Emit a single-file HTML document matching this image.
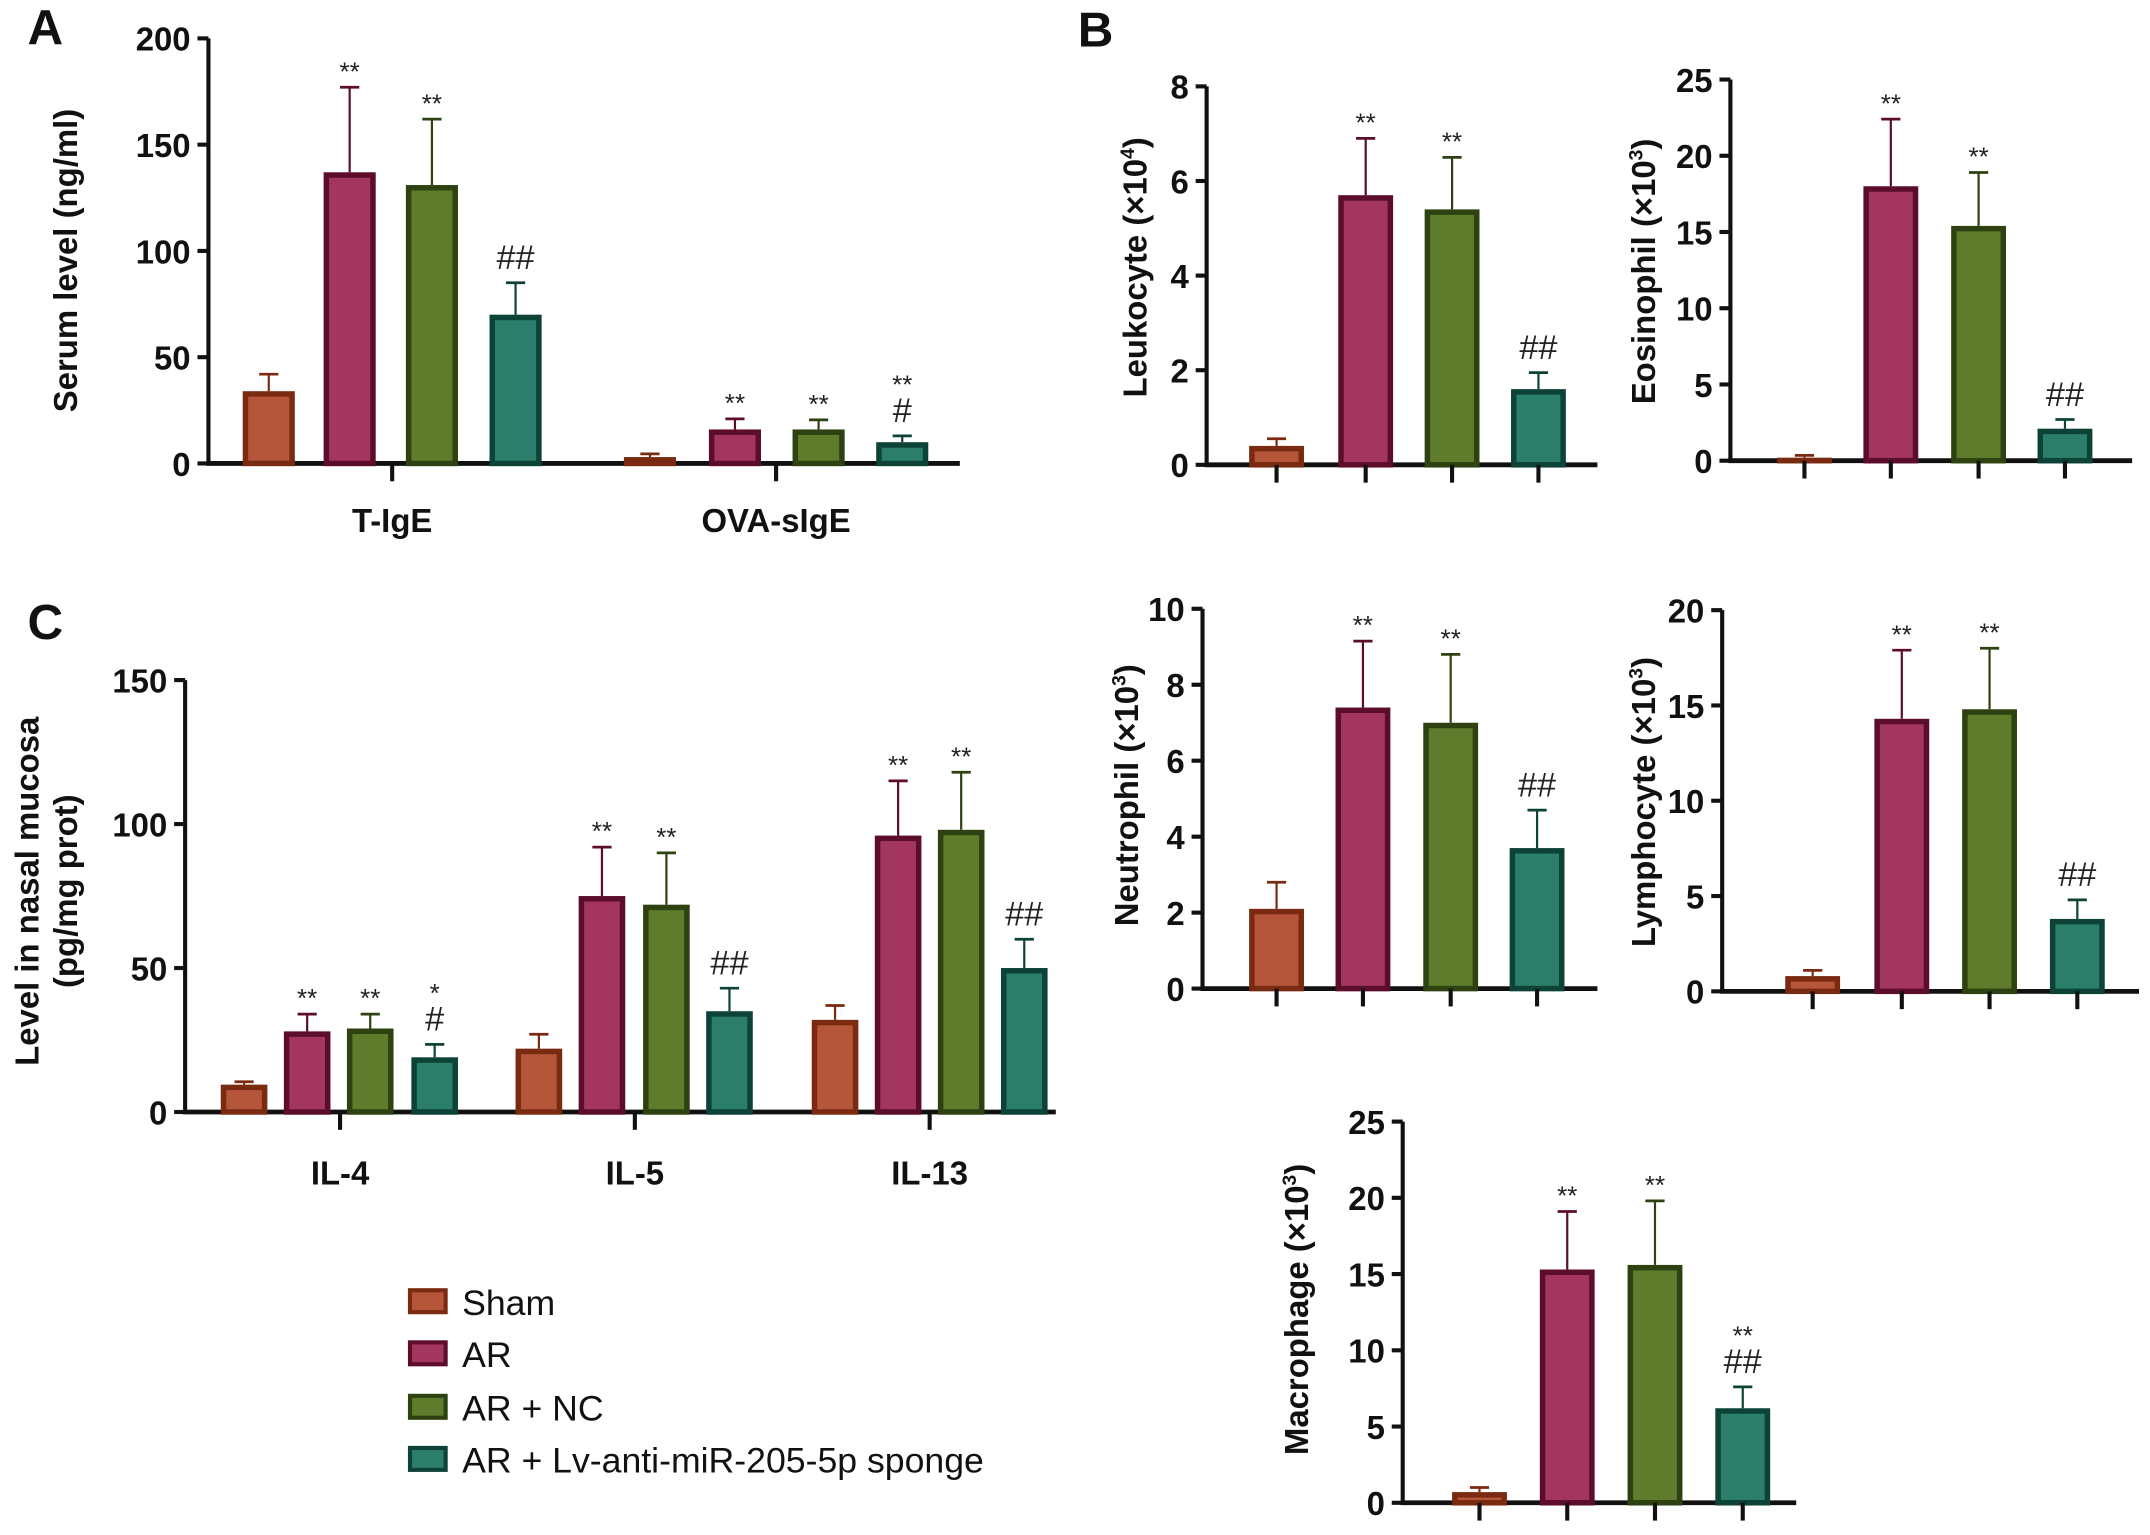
<!DOCTYPE html>
<html><head><meta charset="utf-8">
<style>
html,body{margin:0;padding:0;background:#fff;}
svg{display:block;font-family:"Liberation Sans",Arial,sans-serif;}
.tick{font-weight:bold;font-size:24px;fill:#111;}
.ann{fill:#222;}
.ttl{font-weight:bold;font-size:24px;fill:#111;}
.lbl{font-weight:bold;font-size:36px;fill:#111;}
.leg{font-size:26px;fill:#111;}
</style></head>
<body>
<svg id="fig" width="2150" height="1535" viewBox="0 0 1568 1119.5" xmlns="http://www.w3.org/2000/svg">
<text class="lbl" x="20" y="32">A</text>
<text class="lbl" x="786" y="34">B</text>
<text class="lbl" x="20" y="466">C</text>
<g>
 <rect x="299" y="941" width="26" height="16" fill="#b5553a" stroke="#7a2a10" stroke-width="3"/>
 <text class="leg" x="337" y="959">Sham</text>
 <rect x="299" y="979" width="26" height="16" fill="#a3365e" stroke="#5c0d2b" stroke-width="3"/>
 <text class="leg" x="337" y="997">AR</text>
 <rect x="299" y="1018" width="26" height="16" fill="#5e7c2b" stroke="#2d4210" stroke-width="3"/>
 <text class="leg" x="337" y="1036">AR + NC</text>
 <rect x="299" y="1056" width="26" height="16" fill="#2a7e6a" stroke="#0d4236" stroke-width="3"/>
 <text class="leg" x="337" y="1074">AR + Lv-anti-miR-205-5p sponge</text>
</g>
</svg>
<script>
// ---- data ----
const groups = ['Sham','AR','AR + NC','AR + Lv-anti-miR-205-5p sponge'];
const aCategories = ['T-IgE','OVA-sIgE'];
const aMeans = [[34,137,131,70],[3,16,16,10]];
const aErr = [[8,40,31,15],[1.5,5,4.5,3]];
const aAnn = [[[],['**'],['**'],['##']],[[],['**'],['**'],['**','#']]];
const aTicks = [0,50,100,150,200];

const cCategories = ['IL-4','IL-5','IL-13'];
const cMeans = [[9.5,28,29,19],[22,75,72,35],[32,96,98,50]];
const cErr = [[1,6,5,4.5],[5,17,18,8],[5,19,20,10]];
const cAnn = [[[],['**'],['**'],['*','#']],[[],['**'],['**'],['##']],[[],['**'],['**'],['##']]];
const cTicks = [0,50,100,150];

const leukMeans = [0.4,5.7,5.4,1.6];
const leukErr = [0.15,1.2,1.1,0.35];
const leukTicks = [0,2,4,6,8];
const eosMeans = [0.2,18,15.4,2.1];
const eosErr = [0.15,4.4,3.5,0.6];
const eosTicks = [0,5,10,15,20,25];
const neuMeans = [2.1,7.4,7.0,3.7];
const neuErr = [0.7,1.75,1.8,1.0];
const neuTicks = [0,2,4,6,8,10];
const lymMeans = [0.8,14.3,14.8,3.8];
const lymErr = [0.3,3.6,3.2,1.0];
const lymTicks = [0,5,10,15,20];
const macMeans = [0.7,15.3,15.6,6.2];
const macErr = [0.3,3.8,4.2,1.4];
const macTicks = [0,5,10,15,20,25];
const singleAnn = [[],['**'],['**'],['##']];
const macAnn = [[],['**'],['**'],['**','##']];

const fills = ['#b5553a','#a3365e','#5e7c2b','#2a7e6a'];
const strokes = ['#7a2a10','#5c0d2b','#2d4210','#0d4236'];
const NS='http://www.w3.org/2000/svg';
const svg=document.getElementById('fig');
function mk(tag,attrs,parent){const e=document.createElementNS(NS,tag);for(const k in attrs)e.setAttribute(k,attrs[k]);(parent||svg).appendChild(e);return e;}

function axes(g,x0,y0,yTop,xEnd,ticks,scale){
  const ax=mk('line',{x1:x0,y1:y0+1,x2:x0,y2:yTop,stroke:'#111','stroke-width':3},g);
  
  
  const bx=mk('line',{x1:x0-1.5,y1:y0,x2:xEnd,y2:y0,stroke:'#111','stroke-width':3.5},g);
  
  
  ticks.forEach(t=>{
    const y=scale(t);
    mk('line',{x1:x0-8,y1:y,x2:x0,y2:y,stroke:'#111','stroke-width':3},g);
    const tx=mk('text',{x:x0-13,y:y+9,'text-anchor':'end',class:'tick'},g);
    tx.textContent=t;
    
    
  });
}
function bar(g,cx,w,y0,scale,m,e,i,ann){
  const yt=scale(m), ye=scale(m+e);
  const c=strokes[i];
  mk('line',{x1:cx,y1:yt,x2:cx,y2:ye,stroke:c,'stroke-width':1.6},g);
  mk('line',{x1:cx-7,y1:ye,x2:cx+7,y2:ye,stroke:c,'stroke-width':2},g);
  const r=mk('rect',{x:cx-w/2+2,y:yt+2,width:w-4,height:Math.max(0,y0-yt-2),fill:fills[i],stroke:c,'stroke-width':4},g);
  
  
  let ya=ye-10;
  for(let k=ann.length-1;k>=0;k--){
    const s=ann[k];
    const isHash=s.indexOf('#')>=0;
    const t=mk('text',{x:cx,y:isHash?ya:ya+5,'text-anchor':'middle',class:'ann',style:'font-size:'+(isHash?'25px':'19px')},g);
    t.textContent=s;
    
    
    ya-=isHash?26:22;
  }
}
function grouped(name,x0,y0,yTop,xEnd,ticks,maxV,cats,means,errs,anns,centers,catX,catY,w){
  const g=mk('g',{});
  
  
  const scale=v=>y0-(v/maxV)*(y0-yTop);
  axes(g,x0,y0,yTop,xEnd,ticks,scale);
  cats.forEach((c,ci)=>{
    means[ci].forEach((m,i)=>bar(g,centers[ci][i],w,y0,scale,m,errs[ci][i],i,anns[ci][i]));
    mk('line',{x1:catX[ci],y1:y0,x2:catX[ci],y2:y0+13,stroke:'#111','stroke-width':3},g);
    const t=mk('text',{x:catX[ci],y:catY,'text-anchor':'middle',class:'ttl'},g);
    t.textContent=c;
    
    
  });
  return g;
}
function single(name,title,sup,tx,ty,x0,y0,yTop,xEnd,ticks,maxV,means,errs,anns,centers,w){
  const g=mk('g',{});
  
  
  const scale=v=>y0-(v/maxV)*(y0-yTop);
  axes(g,x0,y0,yTop,xEnd,ticks,scale);
  means.forEach((m,i)=>{
    bar(g,centers[i],w,y0,scale,m,errs[i],i,anns[i]);
    mk('line',{x1:centers[i],y1:y0,x2:centers[i],y2:y0+13,stroke:'#111','stroke-width':3},g);
  });
  const t=mk('text',{x:0,y:0,'text-anchor':'middle',class:'ttl',transform:`translate(${tx},${ty}) rotate(-90)`},g);
  
  
  t.appendChild(document.createTextNode(title+' (×10'));
  const sp=document.createElementNS(NS,'tspan');sp.setAttribute('dy','-9');sp.setAttribute('font-size','14');sp.textContent=sup;t.appendChild(sp);
  const sp2=document.createElementNS(NS,'tspan');sp2.setAttribute('dy','9');sp2.textContent=')';t.appendChild(sp2);
  return g;
}
// Panel A
const gA=grouped('panel-a-serum-ige',152,338,28,700,aTicks,200,aCategories,aMeans,aErr,aAnn,
  [[196,255,315,376],[474,536,597,658]],[286,566],388,38);
let t=mk('text',{class:'ttl',transform:'translate(56,190) rotate(-90)','text-anchor':'middle'},gA);
t.textContent='Serum level (ng/ml)';


// Panel C
const gC=grouped('panel-c-cytokines',135,811,496,770,cTicks,150,cCategories,cMeans,cErr,cAnn,
  [[178,224,270,317],[393,439,486,532],[609,655,701,747]],[248,463,678],864,34);
t=mk('text',{class:'ttl',transform:'translate(28,650) rotate(-90)','text-anchor':'middle'},gC);
t.textContent='Level in nasal mucosa';


t=mk('text',{class:'ttl',transform:'translate(56,650) rotate(-90)','text-anchor':'middle'},gC);
t.textContent='(pg/mg prot)';


// Panel B
single('panel-b-leukocyte','Leukocyte','4',836,195,880,339,63,1165,leukTicks,8,leukMeans,leukErr,singleAnn,[931,996,1059,1122],40);
single('panel-b-eosinophil','Eosinophil','3',1207,198,1262,336,58,1555,eosTicks,25,eosMeans,eosErr,singleAnn,[1316,1379,1443,1506],40);
single('panel-b-neutrophil','Neutrophil','3',830,580,877,721,444,1165,neuTicks,10,neuMeans,neuErr,singleAnn,[931,994,1058,1121],40);
single('panel-b-lymphocyte','Lymphocyte','3',1207,585,1256,723,445,1560,lymTicks,20,lymMeans,lymErr,singleAnn,[1322,1387,1451,1515],40);
single('panel-b-macrophage','Macrophage','3',954,955,1023,1096,818,1310,macTicks,25,macMeans,macErr,macAnn,[1079,1143,1207,1271],40);
</script>
</body></html>
